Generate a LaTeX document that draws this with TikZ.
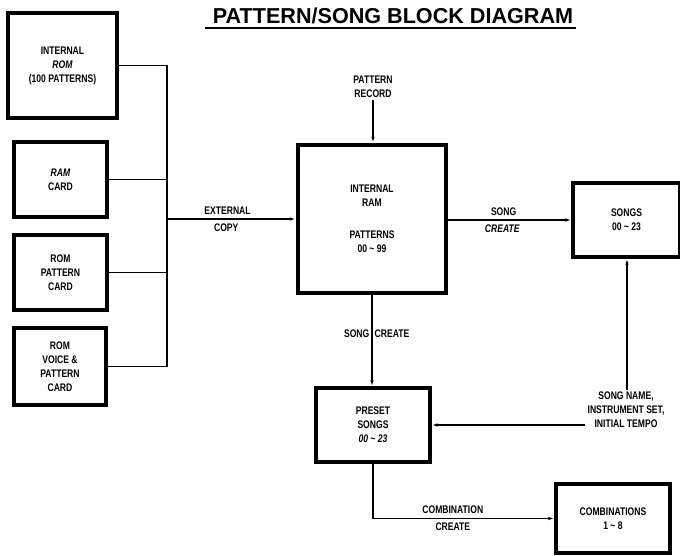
\documentclass[tikz,border=0pt]{standalone}
\usepackage{fontspec}
\setmainfont{Liberation Sans}[FakeStretch=0.78]
\newfontfamily\titlefont{Liberation Sans}
\usepackage{tikz}
\usetikzlibrary{
    arrows.meta,
    positioning
}

\begin{document}
\begin{tikzpicture}[
    x=1pt, y=-1pt,
    every node/.style={
        font=\fontsize{11}{14}\selectfont\bfseries,
        align=center
    },
    block/.style={
        draw=black,
        line width=3.2pt,
        fill=white,
        inner sep=2pt
    },
    mainblock/.style={
        block,
        line width=4.4pt
    },
    lbl/.style={
        inner sep=2pt
    },
    edgelbl/.style={
        inner sep=4pt
    },
    link/.style={
        line width=1.3pt,
        draw=black
    },
    flow/.style={
        link,
        -{Latex[length=6pt,width=3.4pt]}
    }
]

\useasboundingbox (0,0) rectangle (680,556);

\node[font=\titlefont\fontsize{21.6}{24}\selectfont\bfseries, anchor=base]
    (title) at (393,23.5) {PATTERN/SONG BLOCK DIAGRAM};
\draw[line width=1.5pt] (205,28) -- (576,28);

% sources on the left
\node[
    block,
    minimum width=109,
    minimum height=105
] (rom) at (62.5,65.5) {
    INTERNAL\\
    \textit{ROM}\\
    (100 PATTERNS)
};

\node[
    block,
    minimum width=93,
    minimum height=75
] (ramcard) at (60.5,179.5) {
    \textit{RAM}\\
    CARD
};

\node[
    block,
    minimum width=93,
    minimum height=75
] (rompat) at (60.5,272.5) {
    ROM\\
    PATTERN\\
    CARD
};

\node[
    block,
    minimum width=92,
    minimum height=77
] (romvoice) at (60,366.5) {
    ROM\\
    VOICE \&\\
    PATTERN\\
    CARD
};

\coordinate (bus) at (167,219);

% internal memory and results
\node[
    mainblock,
    minimum width=148,
    minimum height=148
] (intram) at (372,219) {
    INTERNAL\\
    RAM\\[18pt]
    PATTERNS\\
    00 \textasciitilde{} 99
};

\node[lbl] (record) at (373,87) {
    PATTERN\\
    RECORD
};

\node[
    block,
    minimum width=107,
    minimum height=74
] (songs) at (626.5,220) {
    SONGS\\
    00 \textasciitilde{} 23
};

\node[
    block,
    minimum width=114,
    minimum height=74
] (preset) at (373,425) {
    PRESET\\
    SONGS\\
    \textit{00 \textasciitilde{} 23}
};

\node[lbl] (names) at (626,410) {
    SONG NAME,\\
    INSTRUMENT SET,\\
    INITIAL TEMPO
};

\node[
    block,
    minimum width=114,
    minimum height=69
] (comb) at (613,518.5) {
    COMBINATIONS\\
    1 \textasciitilde{} 8
};

\coordinate (upline) at (627,0);

% connectors
\draw[link] (rom.east) -| (bus) |- (romvoice.east);
\draw[link] (ramcard.east) -- (ramcard.east -| bus);
\draw[link] (rompat.east) -- (rompat.east -| bus);
\draw[flow] (bus) -- (intram.west)
    node[edgelbl, pos=0.47, above] {EXTERNAL}
    node[edgelbl, pos=0.46, below] {COPY};

\draw[flow] (record.south) -- (record.south |- intram.north);

\draw[flow] (intram.east |- songs.west) -- (songs.west)
    node[edgelbl, pos=0.45, above] {SONG}
    node[edgelbl, pos=0.44, below] {\textit{CREATE}};

\draw[flow] (intram.south) -- (intram.south |- preset.north)
    node[lbl, pos=0.42, left] {SONG}
    node[lbl, pos=0.42, right] {CREATE};

\draw[flow] (upline |- names.north) -- (upline |- songs.south);
\draw[flow] (names.west |- preset.east) -- (preset.east);

\draw[flow] (preset.south) |- (comb.west)
    node[edgelbl, pos=0.72, above] {COMBINATION}
    node[edgelbl, pos=0.72, below] {CREATE};

\end{tikzpicture}
\end{document}
